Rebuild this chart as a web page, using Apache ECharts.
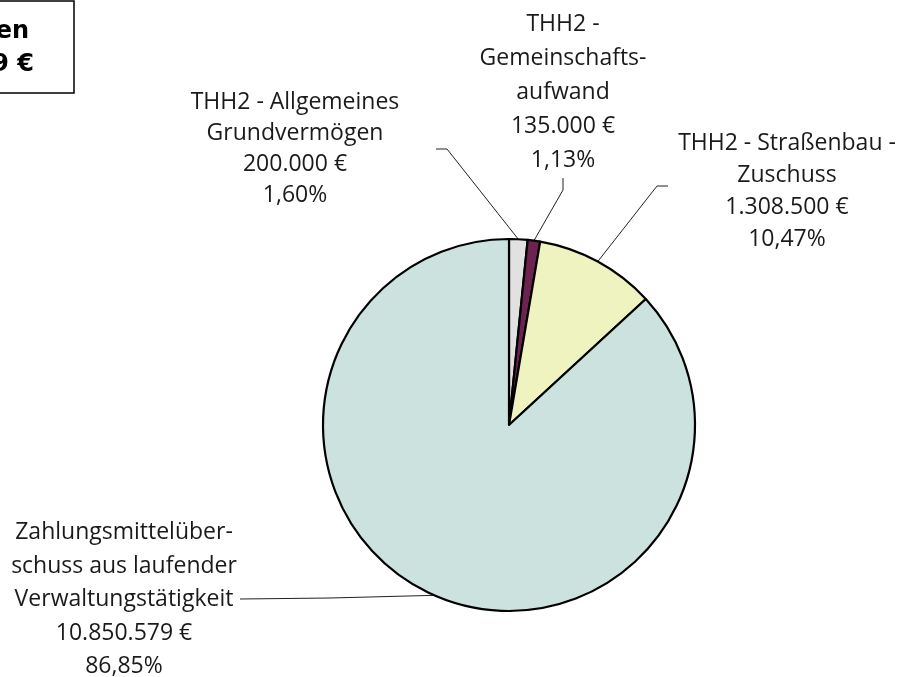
<!DOCTYPE html>
<html><head><meta charset="utf-8">
<script src="https://cdn.jsdelivr.net/npm/echarts@6/dist/echarts.min.js"></script>
<style>html,body{margin:0;padding:0;background:#fff}#c{width:907px;height:677px}</style>
</head><body><div id="c"></div>
<script>
// ---- data ----
const categories = [
  'THH2 - Allgemeines Grundvermögen',
  'THH2 - Gemeinschaftsaufwand',
  'THH2 - Straßenbau - Zuschuss',
  'Zahlungsmittelüberschuss aus laufender Verwaltungstätigkeit'
];
const labelNames = [
  'THH2 - Allgemeines\nGrundvermögen',
  'THH2 -\nGemeinschafts-\naufwand',
  'THH2 - Straßenbau -\nZuschuss',
  'Zahlungsmittelüber-\nschuss aus laufender\nVerwaltungstätigkeit'
];
const values = [200000, 135000, 1308500, 10850579];
const percentLabels = ['1,60%', '1,13%', '10,47%', '86,85%'];
const colors = ['#e1e1e1', '#6d2350', '#eff3bf', '#cce2de'];
const titleLines = ['Finanzierungsquellen', '12.494.079 €'];

// ---- layout (label placement: center x, top y, line height; leader bend / end points) ----
const CX = 509, CY = 425, R = 186;
const labelPos = [
  {x: 295, y: 87,  lh: 31, bend: [447, 149], end: [436, 149]},
  {x: 563, y: 7,   lh: 34, bend: [563, 190], end: [563, 178]},
  {x: 787, y: 127, lh: 32, bend: [657, 186], end: [668, 186]},
  {x: 124, y: 516, lh: 33.5, bend: [330, 598], end: [240, 599]}
];

function fmtNum(v) {
  return String(v).replace(/\B(?=(\d{3})+(?!\d))/g, '.');
}
const total = values.reduce((a, b) => a + b, 0);
const midAngles = [];
(function () {
  let cum = 0;
  values.forEach(v => { midAngles.push((cum + v / 2) / total * 2 * Math.PI); cum += v; });
})();

const chart = echarts.init(document.getElementById('c'), null, {renderer: 'canvas'});
const FONT = 'Open Sans';
chart.setOption({
  animation: false,
  backgroundColor: '#ffffff',
  graphic: [
    {type: 'rect', shape: {x: -400, y: 1, width: 474, height: 92},
     style: {fill: '#fff', stroke: '#000', lineWidth: 1.5}},
    {type: 'text', x: 29, y: 32, style: {text: titleLines[0], align: 'right', verticalAlign: 'middle',
      font: 'bold 24px "DejaVu Sans"', fill: '#000'}},
    {type: 'text', x: 34, y: 65, style: {text: titleLines[1], align: 'right', verticalAlign: 'middle',
      font: 'bold 24px "DejaVu Sans"', fill: '#000'}}
  ],
  series: [{
    type: 'pie',
    center: [CX, CY],
    radius: R,
    startAngle: 90,
    clockwise: true,
    avoidLabelOverlap: false,
    data: categories.map((c, i) => ({
      name: c, value: values[i],
      itemStyle: {color: colors[i]},
      label: {lineHeight: labelPos[i].lh}
    })),
    itemStyle: {borderColor: '#000', borderWidth: 2.2},
    emphasis: {disabled: true},
    label: {
      show: true,
      position: 'outside',
      fontFamily: FONT,
      fontSize: 23,
      color: '#1a1a1a',
      formatter: p => labelNames[p.dataIndex] + '\n' + fmtNum(p.value) + ' €\n' + percentLabels[p.dataIndex]
    },
    labelLine: {show: true, lineStyle: {color: '#222', width: 1}},
    labelLayout: function (params) {
      const i = params.dataIndex;
      const L = labelPos[i];
      const a = midAngles[i];
      const arc = [CX + R * Math.sin(a), CY - R * Math.cos(a)];
      return {
        x: L.x, y: L.y, align: 'center', verticalAlign: 'top',
        labelLinePoints: [arc, L.bend, L.end]
      };
    }
  }]
});
</script></body></html>
